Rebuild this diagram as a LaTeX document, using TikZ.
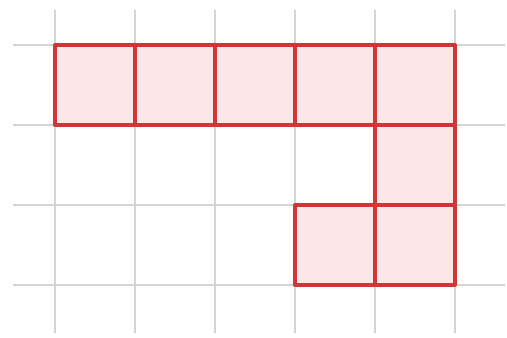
\documentclass[tikz,border=0pt]{standalone}
\usepackage{tikz}
\usetikzlibrary{calc}
\definecolor{cellred}{HTML}{CF3636}
\definecolor{cellpink}{HTML}{FBE7E8}
\definecolor{gridgray}{HTML}{D4D4D4}

\begin{document}
\begin{tikzpicture}[line join=round,
    gridline/.style={gridgray, line width=0.45pt},
    cellbox/.style={draw=cellred, fill=cellpink, line width=1.4pt}]
    \useasboundingbox (-0.6875,-0.6625) rectangle (5.65,3.5625);

    % Сітка
    \foreach \x in {0,...,5}
        \draw[gridline] (\x,-0.6) -- (\x,3.44);
    \foreach \y in {0,...,3}
        \draw[gridline] (-0.53,\y) -- (5.63,\y);

    % Клітинки
    \foreach \x in {0,...,4}
        \draw[cellbox] (\x,2) rectangle ++(1,1);
    \draw[cellbox] (4,1) rectangle ++(1,1);
    \draw[cellbox] (3,0) rectangle ++(1,1);
    \draw[cellbox] (4,0) rectangle ++(1,1);
\end{tikzpicture}
\end{document}
